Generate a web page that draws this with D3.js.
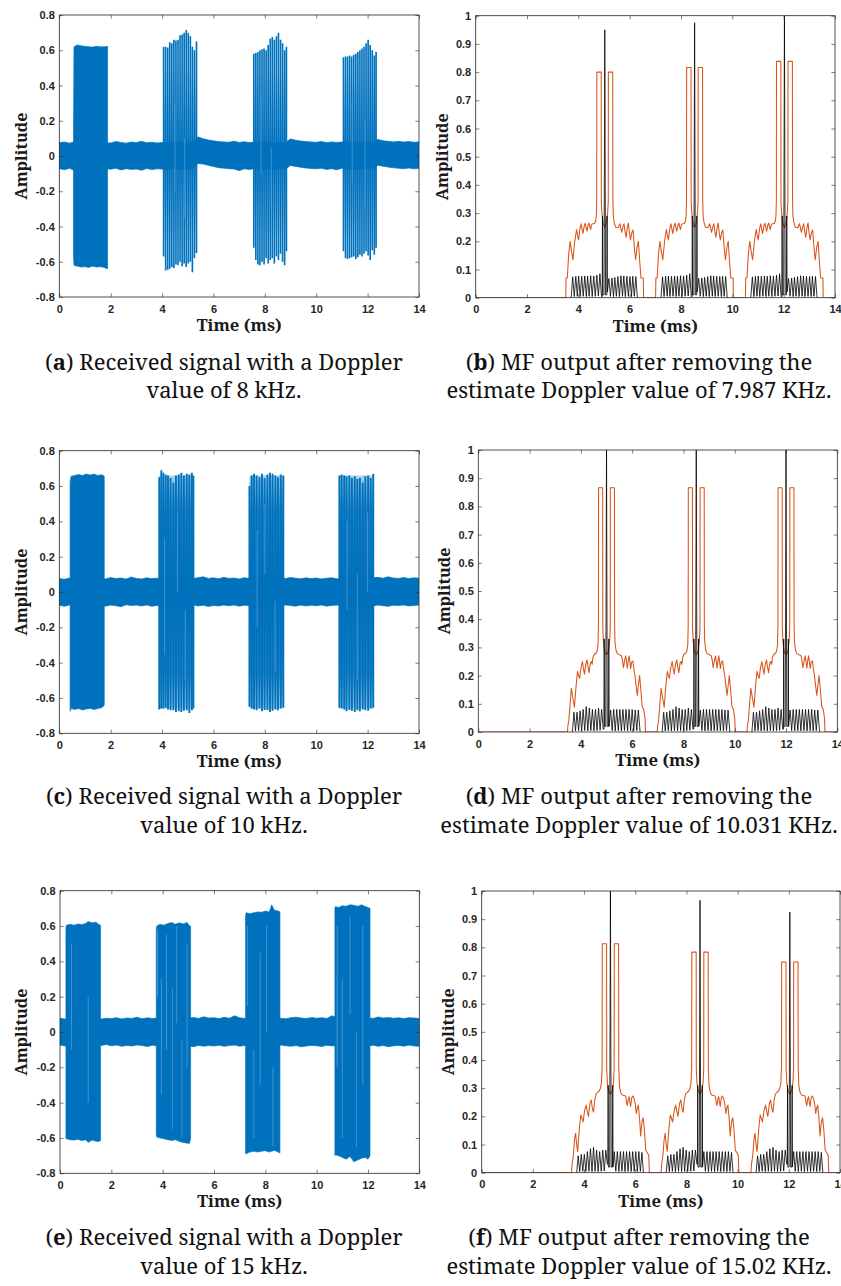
<!DOCTYPE html>
<html>
<head>
<meta charset="utf-8">
<script src="https://cdn.jsdelivr.net/npm/d3@7"></script>
<style>
  body { margin: 0; background: #fff; }
  svg { display: block; }
</style>
</head>
<body>
<svg id="fig" width="841" height="1286"></svg>
<script>
// ---------------------------------------------------------------------------
// Data
// ---------------------------------------------------------------------------
const timeTicks = [0, 2, 4, 6, 8, 10, 12, 14];
const timeTickLabels = ['0', '2', '4', '6', '8', '10', '12', '14'];
const rxTicks = [-0.8, -0.6, -0.4, -0.2, 0, 0.2, 0.4, 0.6, 0.8];
const rxTickLabels = ['-0.8', '-0.6', '-0.4', '-0.2', '0', '0.2', '0.4', '0.6', '0.8'];
const mfTicks = [0, 0.1, 0.2, 0.3, 0.4, 0.5, 0.6, 0.7, 0.8, 0.9, 1];
const mfTickLabels = ['0', '0.1', '0.2', '0.3', '0.4', '0.5', '0.6', '0.7', '0.8', '0.9', '1'];

// Noise-floor envelope of the received signals, one sample every noiseStep ms
const noiseStep = 0.2;
const noiseUpperA = [0.076,0.079,0.073,0.081,0.075,0.078,0.074,0.080,0.077,0.075,
  0.074,0.082,0.077,0.073,0.079,0.076,0.083,0.075,0.078,0.074,
  0.077,0.075,0.079,0.076,0.080,0.077,0.078,0.108,0.098,0.091,
  0.086,0.082,0.080,0.078,0.084,0.077,0.081,0.076,0.079,0.082,
  0.078,0.080,0.076,0.079,0.076,0.097,0.090,0.085,0.082,0.080,
  0.078,0.082,0.076,0.080,0.077,0.079,0.081,0.077,0.080,0.078,
  0.079,0.077,0.094,0.087,0.083,0.080,0.083,0.079,0.082,0.078,0.080];
const noiseLowerA = [-0.072,-0.078,-0.070,-0.083,-0.074,-0.069,-0.077,-0.073,-0.080,-0.071,
  -0.075,-0.069,-0.079,-0.072,-0.076,-0.074,-0.081,-0.071,-0.077,-0.073,
  -0.074,-0.078,-0.071,-0.076,-0.073,-0.079,-0.072,-0.042,-0.046,-0.053,
  -0.060,-0.066,-0.069,-0.072,-0.074,-0.083,-0.073,-0.077,-0.071,-0.075,
  -0.078,-0.072,-0.076,-0.070,-0.074,-0.054,-0.059,-0.064,-0.068,-0.071,
  -0.073,-0.069,-0.076,-0.072,-0.078,-0.070,-0.074,-0.071,-0.077,-0.073,
  -0.070,-0.075,-0.052,-0.058,-0.063,-0.067,-0.069,-0.072,-0.068,-0.073,-0.070];
const noiseUpperC = [0.076,0.072,0.079,0.074,0.077,0.073,0.078,0.075,0.080,0.074,
  0.082,0.076,0.079,0.073,0.085,0.077,0.074,0.080,0.076,0.078,
  0.075,0.079,0.074,0.077,0.073,0.078,0.076,0.081,0.086,0.077,
  0.080,0.075,0.083,0.077,0.079,0.074,0.081,0.076,0.078,0.075,
  0.077,0.080,0.074,0.079,0.076,0.082,0.078,0.075,0.080,0.076,
  0.079,0.074,0.078,0.081,0.075,0.077,0.073,0.079,0.076,0.078,
  0.075,0.080,0.083,0.078,0.086,0.079,0.077,0.082,0.076,0.080,0.078];
const noiseLowerC = [-0.075,-0.081,-0.073,-0.078,-0.072,-0.079,-0.074,-0.077,-0.071,-0.080,
  -0.074,-0.078,-0.083,-0.072,-0.077,-0.074,-0.079,-0.073,-0.081,-0.076,
  -0.078,-0.073,-0.077,-0.080,-0.074,-0.076,-0.072,-0.079,-0.075,-0.082,
  -0.076,-0.079,-0.074,-0.078,-0.073,-0.080,-0.075,-0.077,-0.072,-0.079,
  -0.074,-0.081,-0.076,-0.078,-0.073,-0.077,-0.080,-0.074,-0.079,-0.075,
  -0.078,-0.073,-0.080,-0.076,-0.074,-0.079,-0.075,-0.082,-0.073,-0.077,
  -0.076,-0.079,-0.074,-0.078,-0.081,-0.075,-0.077,-0.073,-0.079,-0.076,-0.074];
const noiseUpperE = [0.078,0.073,0.080,0.075,0.077,0.074,0.079,0.076,0.073,0.078,
  0.076,0.081,0.074,0.079,0.077,0.084,0.075,0.080,0.076,0.078,
  0.074,0.079,0.076,0.080,0.075,0.078,0.082,0.077,0.086,0.079,
  0.081,0.076,0.083,0.078,0.092,0.080,0.077,0.082,0.079,0.076,
  0.080,0.077,0.083,0.078,0.075,0.081,0.084,0.079,0.076,0.082,
  0.078,0.081,0.077,0.092,0.080,0.076,0.079,0.077,0.081,0.078,
  0.080,0.077,0.085,0.079,0.082,0.078,0.080,0.076,0.081,0.079,0.077];
const noiseLowerE = [-0.074,-0.079,-0.072,-0.077,-0.075,-0.080,-0.073,-0.078,-0.076,-0.071,
  -0.078,-0.074,-0.081,-0.076,-0.079,-0.073,-0.077,-0.082,-0.075,-0.079,
  -0.076,-0.080,-0.074,-0.078,-0.073,-0.079,-0.083,-0.076,-0.080,-0.077,
  -0.079,-0.075,-0.081,-0.077,-0.074,-0.080,-0.076,-0.083,-0.078,-0.075,
  -0.080,-0.076,-0.079,-0.074,-0.078,-0.081,-0.077,-0.084,-0.079,-0.076,
  -0.078,-0.082,-0.075,-0.079,-0.076,-0.083,-0.078,-0.074,-0.080,-0.077,
  -0.079,-0.075,-0.081,-0.077,-0.083,-0.078,-0.076,-0.080,-0.074,-0.079,-0.081];

// Dense bursts: [time ms, upper edge, lower edge]
const burstA1 = [[0.55,0.05,-0.57],[0.57,0.62,-0.62],[0.70,0.63,-0.625],[0.85,0.625,-0.63],[1.00,0.622,-0.628],
  [1.15,0.62,-0.632],[1.30,0.618,-0.625],[1.45,0.622,-0.63],[1.60,0.62,-0.628],[1.75,0.62,-0.632],[1.86,0.622,-0.64],[1.88,0.622,-0.64]];
const burstC1 = [[0.42,0.625,-0.675],[0.46,0.655,-0.66],[0.60,0.66,-0.665],[0.75,0.665,-0.66],[0.90,0.66,-0.668],
  [1.05,0.668,-0.662],[1.20,0.662,-0.66],[1.35,0.668,-0.665],[1.50,0.66,-0.66],[1.65,0.664,-0.655],[1.73,0.658,-0.645],[1.75,0.655,-0.64]];
const burstE1 = [[0.23,0.59,-0.60],[0.25,0.605,-0.605],[0.40,0.61,-0.61],[0.55,0.605,-0.612],[0.70,0.612,-0.608],
  [0.85,0.608,-0.615],[1.00,0.615,-0.61],[1.10,0.625,-0.625],[1.25,0.618,-0.612],[1.40,0.622,-0.618],[1.50,0.61,-0.62],[1.58,0.605,-0.615]];
const burstE2 = [[3.75,0.58,-0.58],[3.77,0.60,-0.595],[3.90,0.61,-0.60],[4.05,0.605,-0.605],[4.20,0.615,-0.61],
  [4.35,0.62,-0.615],[4.50,0.61,-0.61],[4.65,0.618,-0.62],[4.80,0.612,-0.625],[4.95,0.62,-0.63],[5.05,0.60,-0.63],[5.09,0.60,-0.60]];
const burstE3 = [[7.23,0.66,-0.69],[7.25,0.675,-0.69],[7.40,0.67,-0.68],[7.55,0.675,-0.675],[7.70,0.68,-0.68],
  [7.85,0.678,-0.675],[8.00,0.685,-0.672],[8.15,0.68,-0.68],[8.25,0.72,-0.675],[8.35,0.69,-0.67],[8.50,0.685,-0.68],[8.57,0.68,-0.685]];
const burstE4 = [[10.71,0.70,-0.70],[10.73,0.71,-0.695],[10.85,0.705,-0.70],[11.00,0.715,-0.71],[11.15,0.712,-0.72],
  [11.30,0.72,-0.705],[11.45,0.718,-0.735],[11.60,0.712,-0.725],[11.75,0.72,-0.715],[11.90,0.71,-0.71],[12.00,0.705,-0.72],[12.08,0.70,-0.70]];

// Resolved oscillation bursts: [time ms, positive peak, negative peak] of each cycle
const strokesA2 = [[4.06,0.62,-0.57],[4.14,0.62,-0.65],[4.22,0.615,-0.645],[4.30,0.645,-0.64],[4.38,0.64,-0.63],
  [4.46,0.66,-0.635],[4.54,0.655,-0.615],[4.62,0.66,-0.62],[4.70,0.685,-0.60],[4.78,0.69,-0.625],[4.86,0.70,-0.61],
  [4.94,0.715,-0.63],[5.02,0.70,-0.61],[5.10,0.68,-0.60],[5.18,0.62,-0.66],[5.26,0.60,-0.58],[5.34,0.65,-0.55]];
const strokesA3 = [[7.57,0.58,-0.52],[7.65,0.585,-0.59],[7.73,0.59,-0.615],[7.81,0.60,-0.62],[7.89,0.605,-0.60],
  [7.97,0.61,-0.615],[8.05,0.60,-0.58],[8.13,0.63,-0.61],[8.21,0.665,-0.59],[8.29,0.675,-0.58],[8.37,0.66,-0.61],
  [8.45,0.68,-0.57],[8.53,0.70,-0.59],[8.61,0.66,-0.555],[8.69,0.64,-0.60],[8.77,0.60,-0.62],[8.84,0.62,-0.54]];
const strokesA4 = [[11.06,0.56,-0.54],[11.14,0.565,-0.58],[11.22,0.565,-0.585],[11.30,0.57,-0.58],[11.38,0.565,-0.575],
  [11.46,0.575,-0.57],[11.54,0.58,-0.585],[11.62,0.59,-0.575],[11.70,0.60,-0.56],[11.78,0.61,-0.57],[11.86,0.62,-0.555],
  [11.94,0.64,-0.54],[12.02,0.66,-0.565],[12.10,0.63,-0.59],[12.18,0.60,-0.535],[12.26,0.57,-0.56],[12.33,0.59,-0.52]];
const strokesC2 = [[3.89,0.65,-0.665],[3.97,0.69,-0.66],[4.05,0.675,-0.66],[4.14,0.665,-0.655],[4.23,0.66,-0.665],
  [4.33,0.645,-0.67],[4.44,0.62,-0.67],[4.54,0.66,-0.68],[4.65,0.665,-0.675],[4.75,0.675,-0.68],[4.85,0.66,-0.672],
  [4.96,0.67,-0.67],[5.06,0.665,-0.685],[5.16,0.675,-0.67],[5.22,0.66,-0.66]];
const strokesC3 = [[7.40,0.60,-0.65],[7.49,0.66,-0.66],[7.58,0.67,-0.665],[7.68,0.66,-0.67],[7.79,0.65,-0.66],
  [7.89,0.67,-0.675],[7.99,0.645,-0.668],[8.10,0.665,-0.67],[8.20,0.675,-0.68],[8.30,0.67,-0.672],[8.41,0.66,-0.665],
  [8.51,0.65,-0.67],[8.62,0.665,-0.66],[8.72,0.66,-0.655]];
const strokesC4 = [[10.90,0.66,-0.655],[10.99,0.665,-0.66],[11.09,0.66,-0.665],[11.18,0.655,-0.675],[11.29,0.66,-0.668],
  [11.39,0.645,-0.672],[11.50,0.655,-0.68],[11.60,0.64,-0.67],[11.70,0.645,-0.675],[11.81,0.62,-0.665],[11.91,0.655,-0.67],
  [12.02,0.66,-0.672],[12.12,0.645,-0.66],[12.22,0.67,-0.655]];
// Amplitude range in which the oscillation crowds together inside a resolved burst
const coreA = 0.5;
const coreC = 0.66;

// Lighter interference streaks inside bursts: [time ms, from, to]
const streaksA = [[4.50,0.30,-0.20],[4.88,0.10,-0.35],[7.85,0.35,-0.10],[8.25,0.05,-0.30],[11.40,0.30,-0.15],[11.90,0.20,-0.30]];
const streaksC = [[4.10,0.30,-0.35],[4.60,0.45,0.00],[4.90,-0.10,-0.50],[7.70,0.35,-0.20],[8.00,0.50,0.10],
  [8.40,-0.05,-0.45],[11.20,0.40,-0.10],[11.60,0.10,-0.50],[12.00,0.45,0.00]];
const streaksE = [[0.45,0.50,-0.10],[1.10,0.20,-0.40],[3.80,0.58,0.20],[3.95,0.30,-0.35],[4.15,0.55,-0.10],
  [4.38,0.25,-0.55],[4.55,0.60,0.05],[4.75,-0.05,-0.60],[4.95,0.50,-0.20],[7.30,0.60,0.15],[7.55,-0.10,-0.60],
  [7.80,0.45,-0.30],[8.05,0.60,0.00],[8.30,-0.20,-0.65],[10.80,0.60,-0.20],[11.00,0.30,-0.60],[11.30,0.65,0.10],
  [11.55,0.00,-0.65],[11.80,0.60,-0.30]];

// Matched-filter outputs. Pulse profiles are in ms relative to the pulse centre;
// 'P' marks the level of the twin plateau, 'S' the compressed main peak.
const orangeB = [[-1.52,0],[-1.51,0.07],[-1.46,0.07],[-1.41,0.15],[-1.35,0.20],[-1.29,0.16],[-1.24,0.135],[-1.17,0.20],
  [-1.10,0.242],[-1.06,0.22],[-1.02,0.205],[-0.97,0.245],[-0.92,0.262],[-0.88,0.24],[-0.85,0.228],[-0.80,0.255],
  [-0.76,0.264],[-0.72,0.245],[-0.69,0.236],[-0.65,0.258],[-0.61,0.265],[-0.58,0.25],[-0.55,0.242],[-0.51,0.26],
  [-0.47,0.262],[-0.40,0.263],[-0.36,0.27],[-0.33,0.29],[-0.315,0.35],[-0.31,'P'],[-0.14,'P'],[-0.135,0.34],
  [-0.11,0.30],[-0.07,0.27],[-0.03,0.255],[0,0.25],[0.03,0.255],[0.07,0.27],[0.11,0.30],[0.135,0.34],[0.14,'P'],
  [0.31,'P'],[0.315,0.35],[0.33,0.29],[0.37,0.265],[0.42,0.25],[0.52,0.248],[0.56,0.256],[0.59,0.262],[0.63,0.245],
  [0.66,0.232],[0.71,0.252],[0.75,0.262],[0.79,0.235],[0.83,0.214],[0.88,0.25],[0.92,0.265],[0.96,0.23],[1.00,0.205],
  [1.05,0.23],[1.10,0.24],[1.15,0.18],[1.20,0.135],[1.26,0.18],[1.31,0.20],[1.36,0.13],[1.41,0.07],[1.50,0.07],[1.51,0]];
const blackB = [[-1.31,0],[-1.25,0.074],[-1.19,0.004],[-1.13,0.076],[-1.07,0.005],[-1.02,0.077],[-0.96,0.004],
  [-0.90,0.076],[-0.84,0.005],[-0.78,0.077],[-0.72,0.004],[-0.67,0.076],[-0.61,0.005],[-0.55,0.078],[-0.49,0.004],
  [-0.43,0.077],[-0.37,0.005],[-0.31,0.080],[-0.25,0.006],[-0.19,0.085],[-0.13,0.004],[-0.10,0.004],[-0.09,0.29],
  [-0.08,0.01],[-0.03,0.01],[0,'S'],[0.03,0.01],[0.08,0.01],[0.09,0.29],[0.10,0.02],[0.16,0.068],[0.22,0.005],
  [0.28,0.070],[0.34,0.004],[0.39,0.072],[0.45,0.005],[0.51,0.075],[0.57,0.004],[0.63,0.078],[0.69,0.005],[0.74,0.077],
  [0.80,0.004],[0.86,0.076],[0.92,0.005],[0.98,0.075],[1.04,0.004],[1.09,0.076],[1.15,0.005],[1.21,0.075],[1.27,0]];
const orangeD = [[-1.52,0],[-1.51,0.02],[-1.47,0.04],[-1.42,0.10],[-1.37,0.155],[-1.31,0.12],[-1.25,0.088],[-1.19,0.16],
  [-1.13,0.215],[-1.09,0.20],[-1.05,0.19],[-0.99,0.23],[-0.94,0.25],[-0.90,0.225],[-0.86,0.205],[-0.81,0.24],
  [-0.76,0.255],[-0.72,0.23],[-0.68,0.21],[-0.63,0.245],[-0.59,0.25],[-0.56,0.24],[-0.53,0.265],[-0.48,0.275],
  [-0.40,0.28],[-0.36,0.29],[-0.33,0.31],[-0.315,0.38],[-0.31,'P'],[-0.15,'P'],[-0.145,0.37],[-0.12,0.32],[-0.08,0.29],
  [-0.04,0.278],[0,0.275],[0.04,0.278],[0.08,0.29],[0.12,0.32],[0.145,0.37],[0.15,'P'],[0.31,'P'],[0.315,0.38],
  [0.33,0.32],[0.37,0.29],[0.42,0.278],[0.55,0.272],[0.59,0.27],[0.62,0.255],[0.66,0.228],[0.71,0.255],[0.75,0.27],
  [0.78,0.25],[0.81,0.226],[0.85,0.255],[0.88,0.27],[0.91,0.25],[0.94,0.225],[0.98,0.248],[1.03,0.252],[1.07,0.22],
  [1.11,0.20],[1.16,0.16],[1.20,0.13],[1.25,0.17],[1.29,0.20],[1.34,0.15],[1.39,0.09],[1.45,0.08],[1.50,0.05],[1.52,0]];
const blackD = [[-1.33,0],[-1.27,0.07],[-1.21,0.004],[-1.15,0.07],[-1.09,0.005],[-1.03,0.075],[-0.97,0.004],[-0.91,0.08],
  [-0.85,0.005],[-0.79,0.09],[-0.73,0.004],[-0.67,0.085],[-0.61,0.005],[-0.55,0.08],[-0.49,0.004],[-0.43,0.08],
  [-0.37,0.005],[-0.31,0.085],[-0.25,0.006],[-0.19,0.08],[-0.13,0.01],[-0.10,0.01],[-0.09,0.33],[-0.08,0.02],
  [-0.03,0.02],[0,'S'],[0.03,0.02],[0.08,0.02],[0.09,0.33],[0.10,0.02],[0.16,0.078],[0.22,0.005],[0.28,0.08],
  [0.34,0.004],[0.40,0.08],[0.46,0.005],[0.52,0.08],[0.58,0.004],[0.64,0.08],[0.70,0.005],[0.76,0.08],[0.82,0.004],
  [0.88,0.08],[0.94,0.005],[1.00,0.08],[1.06,0.004],[1.12,0.078],[1.18,0.005],[1.24,0.078],[1.31,0]];
const orangeF = [[-1.52,0],[-1.50,0.03],[-1.45,0.06],[-1.40,0.12],[-1.36,0.14],[-1.32,0.10],[-1.28,0.075],[-1.22,0.15],
  [-1.16,0.205],[-1.12,0.195],[-1.07,0.18],[-1.01,0.22],[-0.95,0.24],[-0.90,0.215],[-0.86,0.20],[-0.80,0.245],
  [-0.75,0.258],[-0.70,0.225],[-0.66,0.215],[-0.61,0.26],[-0.56,0.28],[-0.50,0.285],[-0.44,0.29],[-0.39,0.30],
  [-0.35,0.32],[-0.325,0.38],[-0.32,'P'],[-0.15,'P'],[-0.145,0.37],[-0.12,0.32],[-0.08,0.295],[-0.04,0.285],[0,0.28],
  [0.04,0.285],[0.08,0.295],[0.12,0.32],[0.145,0.37],[0.15,'P'],[0.32,'P'],[0.325,0.38],[0.35,0.31],[0.40,0.285],
  [0.47,0.275],[0.56,0.274],[0.60,0.27],[0.63,0.25],[0.66,0.238],[0.70,0.262],[0.73,0.27],[0.76,0.25],[0.79,0.235],
  [0.83,0.265],[0.87,0.272],[0.92,0.265],[0.97,0.245],[1.01,0.21],[1.05,0.23],[1.09,0.24],[1.14,0.19],[1.18,0.13],
  [1.23,0.18],[1.28,0.195],[1.33,0.15],[1.38,0.08],[1.45,0.07],[1.50,0.06],[1.52,0]];
const blackF = [[-1.32,0],[-1.26,0.06],[-1.20,0.004],[-1.14,0.065],[-1.08,0.005],[-1.02,0.065],[-0.96,0.004],
  [-0.90,0.075],[-0.84,0.005],[-0.78,0.085],[-0.72,0.004],[-0.66,0.09],[-0.60,0.005],[-0.54,0.08],[-0.48,0.004],
  [-0.42,0.075],[-0.36,0.005],[-0.30,0.08],[-0.24,0.006],[-0.18,0.08],[-0.12,0.03],[-0.10,0.03],[-0.09,0.31],
  [-0.08,0.02],[-0.03,0.02],[0,'S'],[0.03,0.02],[0.08,0.02],[0.09,0.31],[0.10,0.02],[0.15,0.075],[0.21,0.005],
  [0.27,0.075],[0.33,0.004],[0.39,0.075],[0.45,0.005],[0.51,0.075],[0.57,0.004],[0.63,0.075],[0.69,0.005],[0.75,0.075],
  [0.81,0.004],[0.87,0.075],[0.93,0.005],[0.99,0.075],[1.05,0.004],[1.11,0.075],[1.17,0.005],[1.23,0.072],[1.29,0]];

// Per-pulse centre (ms), compressed peak and plateau height
const centresB = [5.03, 8.53, 12.03];
const peaksB = [0.95, 0.975, 1.01];
const plateausB = [0.80, 0.816, 0.838];
const centresD = [5.0, 8.5, 12.0];
const peaksD = [1.02, 1.02, 1.02];
const plateausD = [0.866, 0.866, 0.866];
const centresF = [5.03, 8.53, 12.04];
const peaksF = [1.0, 0.967, 0.925];
const plateausF = [0.813, 0.783, 0.748];

// Sub-figure captions
const captionTags = ['a', 'b', 'c', 'd', 'e', 'f'];
const captionLine1 = [
  ' Received signal with a Doppler', ' MF output after removing the',
  ' Received signal with a Doppler', ' MF output after removing the',
  ' Received signal with a Doppler', ' MF output after removing the'];
const captionLine2 = [
  'value of 8 kHz.', 'estimate Doppler value of 7.987 KHz.',
  'value of 10 kHz.', 'estimate Doppler value of 10.031 KHz.',
  'value of 15 kHz.', 'estimate Doppler value of 15.02 KHz.'];

// ---------------------------------------------------------------------------
// Layout and style
// ---------------------------------------------------------------------------
const BLUE = '#0072BD', ORANGE = '#D95319', AXIS = '#262626';
const layout = {
  a: { x0: 59.3, x1: 419, y0: 15, y1: 297, ylabX: 20.5 },
  b: { x0: 475.7, x1: 835, y0: 15.7, y1: 297.7, ylabX: 442.3 },
  c: { x0: 59.3, x1: 419, y0: 450.7, y1: 733.3, ylabX: 20.5 },
  d: { x0: 478.3, x1: 837.3, y0: 450, y1: 732, ylabX: 444 },
  e: { x0: 60, x1: 419.3, y0: 890.7, y1: 1173.3, ylabX: 20.7 },
  f: { x0: 481.7, x1: 840, y0: 891, y1: 1172.7, ylabX: 448.3 }
};
const captionCx = [224, 639];
const captionBase = [[370, 398], [804, 833], [1245, 1274]];
const SERIF = '"Noto Serif", "Liberation Serif", serif';
const SANS = '"Liberation Sans", Arial, sans-serif';

const svg = d3.select('#fig');

// vertical fades used for the crowded centre of resolved bursts
const defs = svg.append('defs');
function fade(id, stops) {
  const lg = defs.append('linearGradient').attr('id', id)
    .attr('x1', 0).attr('y1', 0).attr('x2', 0).attr('y2', 1);
  stops.forEach(([o, a]) => lg.append('stop').attr('offset', o)
    .attr('stop-color', BLUE).attr('stop-opacity', a));
}
fade('coreFadeA', [[0, 0], [0.25, 0.45], [0.5, 0.85], [0.75, 0.45], [1, 0]]);
fade('coreFadeC', [[0, 0.3], [0.15, 0.85], [0.5, 1], [0.85, 0.85], [1, 0.3]]);

const rxPanels = {
  a: { up: noiseUpperA, lo: noiseLowerA, solid: [burstA1], strokes: [strokesA2, strokesA3, strokesA4],
       core: coreA, coreFill: 'url(#coreFadeA)', strokeW: 1.65, streaks: streaksA },
  c: { up: noiseUpperC, lo: noiseLowerC, solid: [burstC1], strokes: [strokesC2, strokesC3, strokesC4],
       core: coreC, coreFill: 'url(#coreFadeC)', strokeW: 1.9, streaks: streaksC },
  e: { up: noiseUpperE, lo: noiseLowerE, solid: [burstE1, burstE2, burstE3, burstE4], strokes: [],
       core: 0, coreFill: 'none', strokeW: 1.5, streaks: streaksE }
};
const mfPanels = {
  b: { orange: orangeB, black: blackB, centres: centresB, peaks: peaksB, plateaus: plateausB },
  d: { orange: orangeD, black: blackD, centres: centresD, peaks: peaksD, plateaus: plateausD },
  f: { orange: orangeF, black: blackF, centres: centresF, peaks: peaksF, plateaus: plateausF }
};

function frame(id, yDomain, yTicks, yLabels) {
  const L = layout[id];
  const x = d3.scaleLinear().domain([0, 14]).range([L.x0, L.x1]);
  const y = d3.scaleLinear().domain(yDomain).range([L.y1, L.y0]);
  const g = svg.append('g');
  g.append('clipPath').attr('id', 'clip-' + id)
    .append('rect').attr('x', L.x0).attr('y', L.y0).attr('width', L.x1 - L.x0).attr('height', L.y1 - L.y0);
  const plot = g.append('g').attr('clip-path', `url(#clip-${id})`);
  return { L, x, y, g, plot, yTicks, yLabels };
}

function axes(F) {
  const { L, x, y, g, yTicks, yLabels } = F;
  const tl = 3.6;
  const put = (axis, tr, labels) => {
    const a = g.append('g').attr('transform', tr).call(axis);
    a.select('.domain').remove();
    a.selectAll('line').attr('stroke', AXIS).attr('stroke-width', 0.6);
    a.selectAll('text').attr('fill', AXIS)
      .style('font-family', SANS).style('font-weight', 'bold').style('font-size', '11px');
    if (!labels) a.selectAll('text').remove();
  };
  put(d3.axisBottom(x).tickValues(timeTicks).tickSize(-tl).tickPadding(8)
      .tickFormat((d, i) => timeTickLabels[i]), `translate(0,${L.y1})`, true);
  put(d3.axisTop(x).tickValues(timeTicks).tickSize(-tl), `translate(0,${L.y0})`, false);
  put(d3.axisLeft(y).tickValues(yTicks).tickSize(-tl).tickPadding(4.5)
      .tickFormat((d, i) => yLabels[i]), `translate(${L.x0},0)`, true);
  put(d3.axisRight(y).tickValues(yTicks).tickSize(-tl), `translate(${L.x1},0)`, false);
  g.append('rect').attr('x', L.x0).attr('y', L.y0).attr('width', L.x1 - L.x0).attr('height', L.y1 - L.y0)
    .attr('fill', 'none').attr('stroke', AXIS).attr('stroke-width', 0.8);

  g.append('text').text('Time (ms)')
    .attr('x', (L.x0 + L.x1) / 2).attr('y', L.y1 + 28)
    .attr('text-anchor', 'middle').attr('dominant-baseline', 'central')
    .attr('textLength', 85).attr('lengthAdjust', 'spacingAndGlyphs')
    .style('font-family', SERIF).style('font-weight', 'bold').style('font-size', '16px').attr('fill', '#1a1a1a');
  g.append('text').text('Amplitude')
    .attr('transform', `translate(${L.ylabX},${(L.y0 + L.y1) / 2}) rotate(-90)`)
    .attr('text-anchor', 'middle').attr('dominant-baseline', 'central')
    .attr('textLength', 87).attr('lengthAdjust', 'spacingAndGlyphs')
    .style('font-family', SERIF).style('font-weight', 'bold').style('font-size', '16px').attr('fill', '#1a1a1a');
}

function drawRx(id) {
  const P = rxPanels[id];
  const F = frame(id, [-0.8, 0.8], rxTicks, rxTickLabels);
  const { x, y, plot } = F;
  const band = d3.area().x(d => x(d[0])).y0(d => y(d[2])).y1(d => y(d[1]));

  const noise = P.up.map((u, i) => [i * noiseStep, u, P.lo[i]]);
  plot.append('path').datum(noise).attr('d', band)
    .attr('fill', BLUE).attr('stroke', BLUE).attr('stroke-width', 0.7);

  P.solid.forEach(b => plot.append('path').datum(b).attr('d', band)
    .attr('fill', BLUE).attr('stroke', BLUE).attr('stroke-width', 0.6));

  P.strokes.forEach(b => {
    const t0 = b[0][0], t1 = b[b.length - 1][0];
    plot.append('rect').attr('x', x(t0)).attr('width', x(t1) - x(t0))
      .attr('y', y(P.core)).attr('height', y(-P.core) - y(P.core))
      .attr('fill', P.coreFill);
    plot.append('g').selectAll('line').data(b).join('line')
      .attr('x1', d => x(d[0])).attr('x2', d => x(d[0]))
      .attr('y1', d => y(d[1])).attr('y2', d => y(d[2]))
      .attr('stroke', BLUE).attr('stroke-width', P.strokeW);
  });

  plot.append('g').selectAll('line').data(P.streaks).join('line')
    .attr('x1', d => x(d[0])).attr('x2', d => x(d[0]))
    .attr('y1', d => y(d[1])).attr('y2', d => y(d[2]))
    .attr('stroke', '#6fa9dc').attr('stroke-width', 0.6);

  axes(F);
}

function drawMf(id) {
  const P = mfPanels[id];
  const F = frame(id, [0, 1], mfTicks, mfTickLabels);
  const { x, y, plot } = F;
  const line = d3.line().x(d => x(d[0])).y(d => y(d[1]));

  const orangePts = [[0, 0]];
  P.centres.forEach((c, k) => P.orange.forEach(([dt, v]) =>
    orangePts.push([c + dt, v === 'P' ? P.plateaus[k] : v])));
  orangePts.push([14, 0]);
  plot.append('path').datum(orangePts).attr('d', line)
    .attr('fill', 'none').attr('stroke', ORANGE).attr('stroke-width', 1.05).attr('stroke-linejoin', 'round');

  P.centres.forEach((c, k) => {
    const pts = P.black.map(([dt, v]) => [c + dt, v === 'S' ? P.peaks[k] : v]);
    plot.append('path').datum(pts).attr('d', line)
      .attr('fill', 'none').attr('stroke', '#000').attr('stroke-width', 0.8).attr('stroke-linejoin', 'miter');
  });

  axes(F);
}

drawRx('a'); drawMf('b');
drawRx('c'); drawMf('d');
drawRx('e'); drawMf('f');

// Captions below each row
const capTexts = [];
captionTags.forEach((tag, i) => {
  const row = Math.floor(i / 2), col = i % 2;
  const cx = captionCx[col];
  const t1 = svg.append('text').attr('text-anchor', 'middle')
    .style('font-family', SERIF).style('font-size', '21px').attr('fill', '#111');
  t1.append('tspan').text('(');
  t1.append('tspan').text(tag).style('font-weight', 'bold');
  t1.append('tspan').text(')' + captionLine1[i]);
  const t2 = svg.append('text').attr('text-anchor', 'middle').text(captionLine2[i])
    .style('font-family', SERIF).style('font-size', '21px').attr('fill', '#111');
  capTexts.push([t1, cx, captionBase[row][0]], [t2, cx, captionBase[row][1]]);
});
// one common horizontal scale so the serif face spans the caption measure
const refWidth = capTexts[0][0].node().getComputedTextLength();
const sx = 358 / refWidth;
capTexts.forEach(([t, cx, by]) => t.attr('transform', `translate(${cx},${by}) scale(${sx},1)`));
</script>
</body>
</html>
